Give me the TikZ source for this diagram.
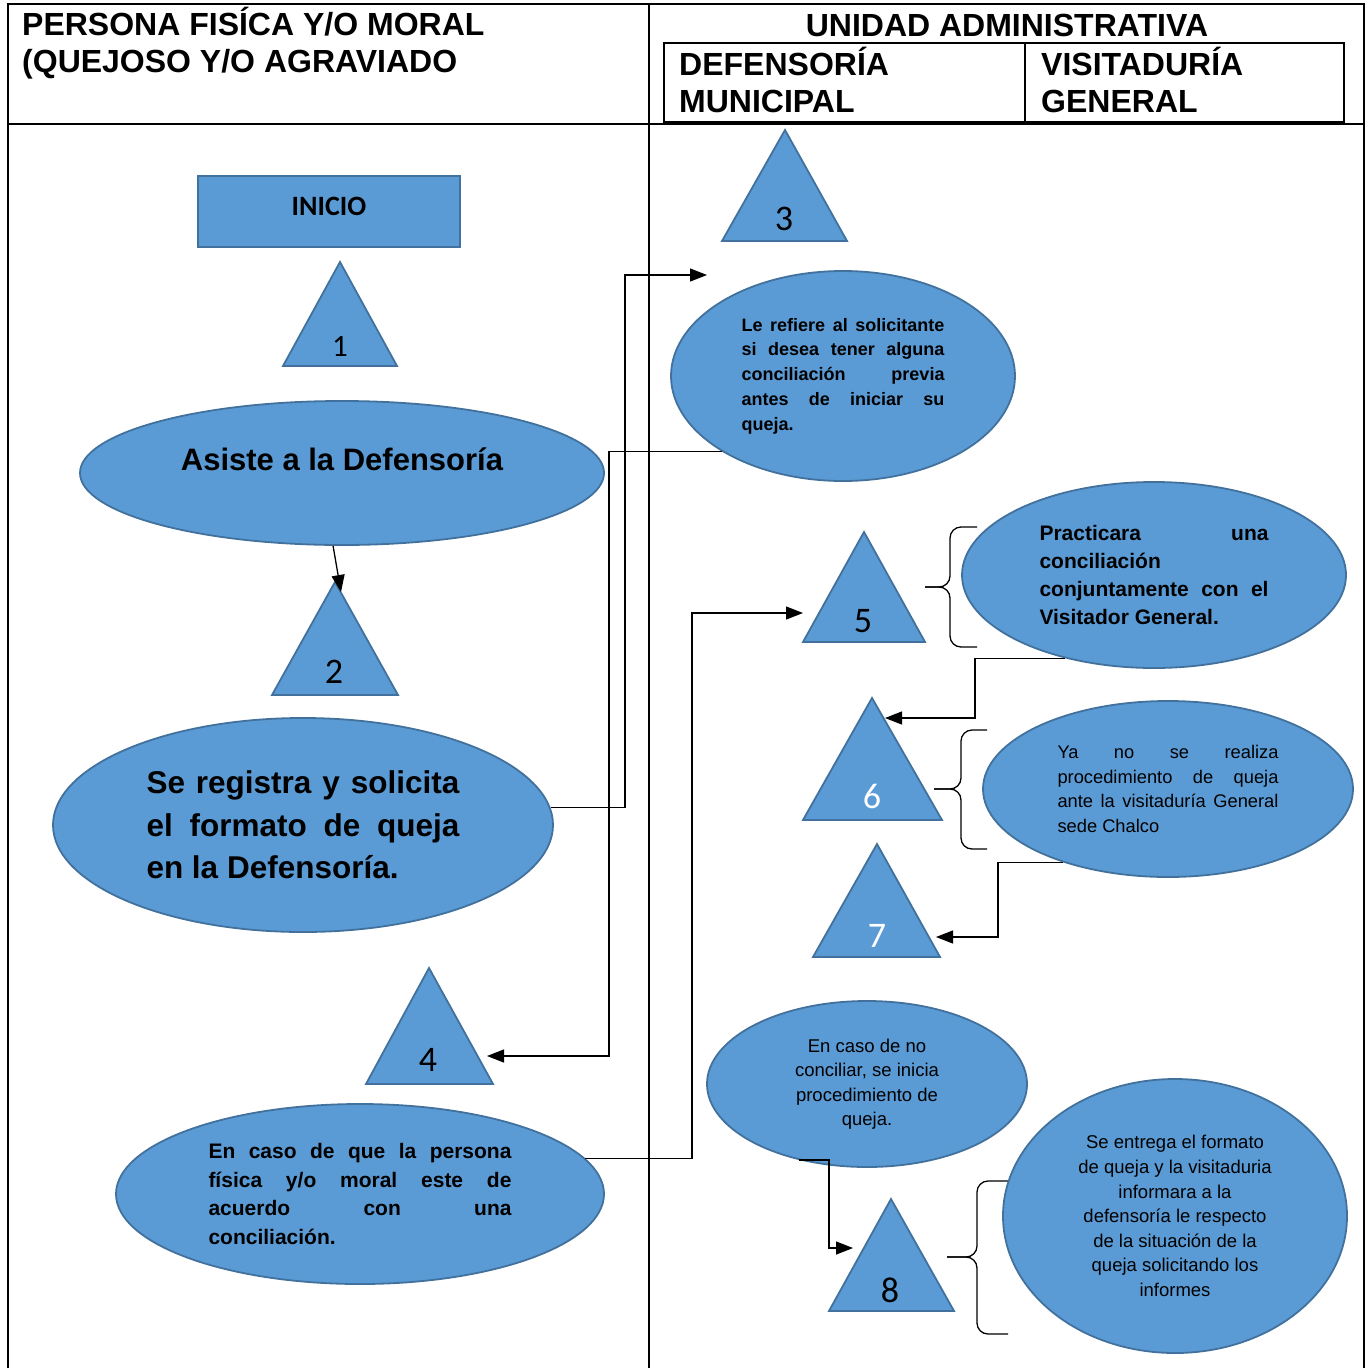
\documentclass[tikz,border=0pt]{standalone}
\usepackage{fontspec}
\setmainfont{Liberation Sans}
\newfontfamily\numfont{Carlito}
\usepackage{tikz}
\usetikzlibrary{arrows.meta, shapes.geometric}

\definecolor{boxfill}{RGB}{91,155,213}
\definecolor{boxline}{RGB}{65,113,156}

\hyphenpenalty=10000
\exhyphenpenalty=10000
\tolerance=10000
\hbadness=10000

\begin{document}
\begin{tikzpicture}[
    x=1pt, y=-1pt,
    ell/.style     = {ellipse, draw=boxline, fill=boxfill, line width=1.8pt,
                      inner sep=0pt},
    tri/.style     = {draw=boxline, fill=boxfill, line width=1.8pt},
    num/.style     = {font=\numfont\fontsize{36}{36}\selectfont, inner sep=0pt},
    hdr/.style     = {font=\bfseries\fontsize{32}{37}\selectfont,
                      anchor=base west, inner sep=0pt},
    arr/.style     = {-{Triangle[length=17pt,width=13pt]}, line width=1.3pt},
    brc/.style     = {line width=1.3pt, rounded corners=11pt},
    tabline/.style = {line width=2pt}
]
  \useasboundingbox (0,0) rectangle (1370,1368);

  % table
  \draw[tabline] (8,1368) -- (8,4) -- (1364,4) -- (1364,1368);
  \draw[tabline] (649,4) -- (649,1368);
  \draw[tabline] (8,124) -- (1364,124);
  \draw[tabline] (664,43) rectangle (1344,122);
  \draw[tabline] (1025,43) -- (1025,122);

  \node[hdr] (hpers) at (22,35)  {PERSONA FISÍCA Y/O MORAL};
  \node[hdr] (hquej) at (22,72)  {(QUEJOSO Y/O AGRAVIADO};
  \node[hdr, anchor=base] (hunid) at (1007,36) {UNIDAD ADMINISTRATIVA};
  \node[hdr] (hdef)  at (679,75)  {DEFENSORÍA};
  \node[hdr] (hmun)  at (679,112) {MUNICIPAL};
  \node[hdr] (hvis)  at (1041,75) {VISITADURÍA};
  \node[hdr] (hgen)  at (1041,112) {GENERAL};

  % start
  \node[draw=boxline, fill=boxfill, line width=1.8pt,
        minimum width=262pt, minimum height=71pt,
        font=\numfont\bfseries\fontsize{28}{30}\selectfont]
        (inicio) at (329,211.5) {\raisebox{11pt}{INICIO}};

  % numbered triangles
  \draw[tri] (340,262) -- (397,366) -- (283,366) -- cycle;
  \node[num, font=\numfont\fontsize{31}{31}\selectfont] (n1) at (340,347) {1};
  \draw[tri] (335,582) -- (398,695) -- (272,695) -- cycle;
  \node[num] (n2) at (334,672) {2};
  \draw[tri] (785,130) -- (847,241) -- (722,241) -- cycle;
  \node[num] (n3) at (784,219) {3};
  \draw[tri] (429,968) -- (493,1084) -- (366,1084) -- cycle;
  \node[num] (n4) at (428,1060) {4};
  \draw[tri] (864,532) -- (925,642) -- (803,642) -- cycle;
  \node[num] (n5) at (863,621) {5};
  \draw[tri] (872,698) -- (942,820) -- (803,820) -- cycle;
  \node[num, text=white] (n6) at (872,796) {6};
  \draw[tri] (877,844) -- (940,957) -- (813,957) -- cycle;
  \node[num, text=white] (n7) at (877,936) {7};
  \draw[tri] (891,1199) -- (954,1311) -- (829,1311) -- cycle;
  \node[num] (n8) at (890,1290) {8};

  % braces
  \draw[brc] (977,527) -- (950,527) -- (950,587) -- (925,587);
  \draw[brc] (925,587) -- (950,587) -- (950,647) -- (977,647);
  \draw[brc] (987,730) -- (961,730) -- (961,789) -- (934,789);
  \draw[brc] (934,789) -- (961,789) -- (961,849) -- (987,849);
  \draw[brc] (1008,1181) -- (977,1181) -- (977,1257) -- (947,1257);
  \draw[brc] (947,1257) -- (977,1257) -- (977,1334) -- (1008,1334);

  % left column
  \node[ell, minimum width=524pt, minimum height=144pt,
        font=\bfseries\fontsize{31}{37}\selectfont]
        (asiste) at (342,473) {\raisebox{28pt}{Asiste a la Defensoría}};
  \node[ell, minimum width=500pt, minimum height=214pt, text width=313pt,
        align=justify, font=\bfseries\fontsize{31.5}{42.5}\selectfont]
        (registra) at (303,825)
        {Se registra y solicita\linebreak el formato de queja\linebreak en la Defensoría.};
  \node[ell, minimum width=488pt, minimum height=180pt, text width=303pt,
        align=justify, font=\bfseries\fontsize{21}{28.4}\selectfont]
        (acuerdo) at (360,1194)
        {En caso de que la persona\linebreak física y/o moral este de\linebreak acuerdo con una\linebreak conciliación.};

  % right column
  \node[ell, minimum width=344pt, minimum height=210pt, text width=203pt,
        align=justify, font=\bfseries\fontsize{18}{24.7}\selectfont]
        (refiere) at (843,376)
        {Le refiere al solicitante\linebreak si desea tener alguna\linebreak conciliación previa\linebreak antes de iniciar su\linebreak queja.};
  \node[ell, minimum width=384pt, minimum height=186pt, text width=229pt,
        align=justify, font=\bfseries\fontsize{21}{28}\selectfont]
        (practica) at (1154,575)
        {Practicara una\linebreak conciliación\linebreak conjuntamente con el\linebreak Visitador General.};
  \node[ell, minimum width=370pt, minimum height=176pt, text width=221pt,
        align=justify, font=\fontsize{18.3}{24.7}\selectfont]
        (yano) at (1168,789)
        {Ya no se realiza\linebreak procedimiento de queja\linebreak ante la visitaduría General\linebreak sede Chalco};
  \node[ell, minimum width=320pt, minimum height=166pt, align=center,
        font=\fontsize{18.5}{24.5}\selectfont]
        (nocon) at (867,1084)
        {En caso de no\\conciliar, se inicia\\procedimiento de\\queja.};
  \node[ell, minimum width=344pt, minimum height=274pt, align=center,
        font=\fontsize{18.5}{24.6}\selectfont]
        (entrega) at (1175,1216)
        {Se entrega el formato\\de queja y la visitaduria\\informara a la\\defensoría le respecto\\de la situación de la\\queja solicitando los\\informes};

  % connectors
  \coordinate (t2in) at (341,592);
  \draw[arr] (asiste.263) -- (t2in);

  \coordinate (colA) at (625,275);
  \coordinate (t3in) at (707,275);
  \draw[arr] (registra.4) -| (colA) -- (t3in);

  \coordinate (colB) at (609,1056);
  \coordinate (t4in) at (487,1056);
  \draw[arr] (refiere.212) -| (colB) -- (t4in);

  \coordinate (colC) at (692,613);
  \coordinate (t5in) at (803,613);
  \draw[arr] (acuerdo.9) -| (colC) -- (t5in);

  \coordinate (colD) at (975,718);
  \coordinate (t6in) at (885,718);
  \draw[arr] (practica.223) -| (colD) -- (t6in);

  \coordinate (colE) at (998,937);
  \coordinate (t7in) at (936,937);
  \draw[arr] (yano.215) -| (colE) -- (t7in);

  \coordinate (colF) at (829,1248);
  \coordinate (t8in) at (853,1248);
  \draw[arr] (nocon.228) -| (colF) -- (t8in);
\end{tikzpicture}
\end{document}
